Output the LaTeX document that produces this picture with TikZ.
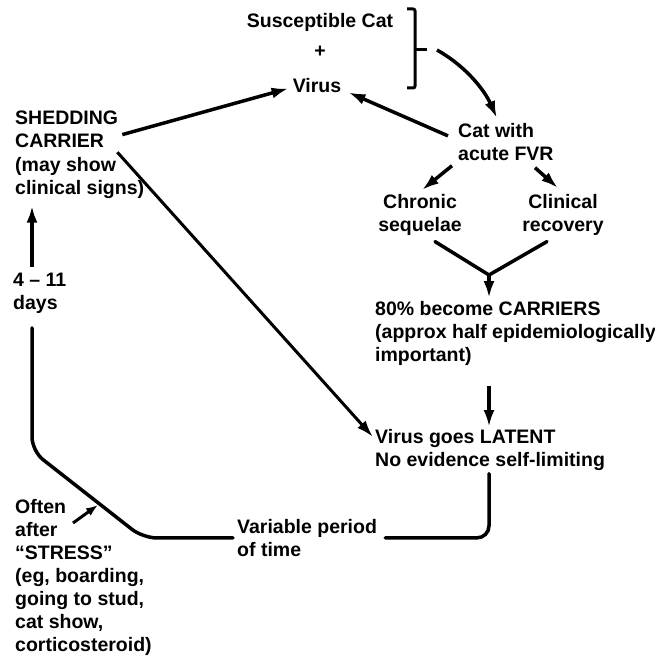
\documentclass[tikz,border=0pt]{standalone}
\usepackage{fontspec}
\setmainfont{Liberation Sans}
\usetikzlibrary{arrows.meta}

\begin{document}
\begin{tikzpicture}[
        x=1pt, y=-1pt,
        every node/.style={inner sep=0pt, align=left, font=\bfseries\fontsize{19.5}{23}\selectfont},
        ar/.style={-{Latex[length=17pt, width=11pt]}, line width=3.5pt},
        ln/.style={line width=3.5pt, line cap=round},
    ]
    \useasboundingbox (0,0) rectangle (655,666);

    \node[anchor=north](sus) at (320,13) {Susceptible Cat};
    \node[](plus) at (320,52) {+};
    \node[anchor=north](virus) at (317,78) {Virus};
    \node[anchor=north west](shed) at (15,111) {SHEDDING\\CARRIER};
    \node[anchor=north west](note) at (15,157) {(may show\\clinical signs)};
    \node[anchor=north west](days) at (13,273) {4 -- 11\\days};
    \node[anchor=north west](stress) at (15,499) {Often\\after\\“STRESS”\\(eg, boarding,\\going to stud,\\cat show,\\corticosteroid)};
    \node[anchor=north west](acute) at (458,123) {Cat with\\acute FVR};
    \node[anchor=north, align=center](chronic) at (420,194) {Chronic\\sequelae};
    \node[anchor=north, align=center](clin) at (563,194) {Clinical\\recovery};
    \node[anchor=north west](carr) at (375,301) {80\% become CARRIERS\\(approx half epidemiologically\\important)};
    \node[anchor=north west](latent) at (375,429) {Virus goes LATENT\\No evidence self-limiting};
    \node[anchor=north west](period) at (237,519) {Variable period\\of time};

    \coordinate (join) at (437,50);
    \coordinate (merge) at (489,275);
    \coordinate (low) at (143,538);
    \coordinate (up) at (32,451);
    \coordinate (hit) at (98,505);

    % bracket round the two starting items
    \draw[line width=3pt, rounded corners=2pt] (407,9) -- (415,9) -- (415,88) -- (407,88);
    \draw[line width=3pt] (415,50) -- (427,50);

    \draw[ar] (join) .. controls +(30,17) and +(-12,-27) .. ([xshift=-9pt,yshift=5pt]acute.north);

    \path[ar]
    ([xshift=4pt,yshift=-5pt]shed.east) edge ([xshift=-4pt,yshift=-3pt]virus.west)
    ([xshift=-10pt,yshift=6pt]acute.west) edge ([xshift=7pt,yshift=-7pt]virus.east)
    ([xshift=-6pt,yshift=-5pt]acute.south west) edge ([xshift=2pt,yshift=4pt]chronic.north)
    ([xshift=77pt,yshift=-7pt]acute.south west) edge ([xshift=-5pt,yshift=6pt]clin.north)

    (merge) edge ([yshift=3pt]merge |- carr.north)
    ([yshift=-20pt]merge |- carr.south) edge ([yshift=2pt]merge |- latent.north)
    ([yshift=6pt]up |- days.north) edge ([yshift=-7pt]up |- note.south)
    ;
    \draw[ar, line width=3pt] ([xshift=-1pt,yshift=-4pt]shed.south east) -- ([xshift=-2pt,yshift=-8pt]latent.north west);
    \draw[ar, line width=3pt, -{Latex[length=12pt, width=9pt]}] ([xshift=-25pt,yshift=-18pt]hit) -- (hit);

    \draw[ln] ([xshift=15pt,yshift=-6pt]chronic.south) -- (merge) -- ([xshift=-16pt,yshift=-6pt]clin.south);

    % the cycle back to shedding
    \draw[ln, rounded corners=12pt] ([yshift=-3pt]merge |- latent.south) |- ([xshift=8pt]period.east);
    \draw[ln, rounded corners=14pt] ([xshift=-4pt]period.west) -- (low) -- (up) -- ([yshift=-14pt]up |- days.south);
    \end{tikzpicture}
\end{document}
